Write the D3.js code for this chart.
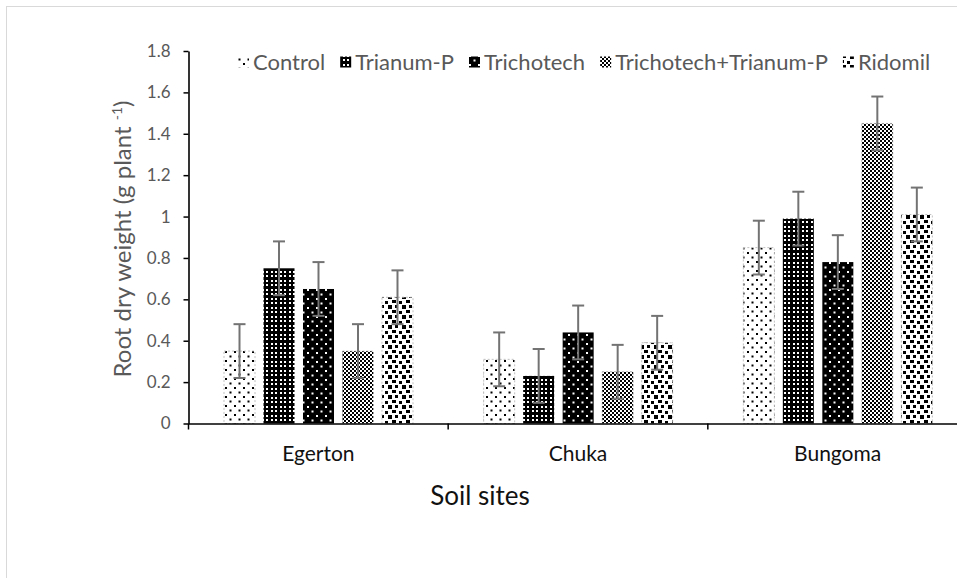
<!DOCTYPE html>
<html><head><meta charset="utf-8">
<script src="https://cdn.jsdelivr.net/npm/d3@7"></script>
<style>body{margin:0;background:#fff} svg{display:block}</style>
</head><body>
<svg id="c" width="957" height="578"></svg>
<script>
// ---- data ----
const categories = ["Egerton", "Chuka", "Bungoma"];
const seriesNames = ["Control", "Trianum-P", "Trichotech", "Trichotech+Trianum-P", "Ridomil"];
const controlVals       = [0.35, 0.31, 0.85];
const trianumVals       = [0.75, 0.23, 0.99];
const trichotechVals    = [0.65, 0.44, 0.78];
const trichoTrianumVals = [0.35, 0.25, 1.45];
const ridomilVals       = [0.61, 0.39, 1.01];
const controlErr        = [0.13, 0.13, 0.13];
const trianumErr        = [0.13, 0.13, 0.13];
const trichotechErr     = [0.13, 0.13, 0.13];
const trichoTrianumErr  = [0.13, 0.13, 0.13];
const ridomilErr        = [0.13, 0.13, 0.13];
const yTickValues = [0, 0.2, 0.4, 0.6, 0.8, 1, 1.2, 1.4, 1.6, 1.8];
const yTickLabels = ["0", "0.2", "0.4", "0.6", "0.8", "1", "1.2", "1.4", "1.6", "1.8"];
const yTitle = "Root dry weight (g plant ";
const ySup = "-1";
const xTitle = "Soil sites";

const seriesVals = [controlVals, trianumVals, trichotechVals, trichoTrianumVals, ridomilVals];
const seriesErr = [controlErr, trianumErr, trichotechErr, trichoTrianumErr, ridomilErr];
const patternIds = ["pControl", "pTrianum", "pTricho", "pTT", "pRidomil"];
const whiteBg = [true, false, false, true, true];

const FONT = "Lato, 'Open Sans', sans-serif";
const svg = d3.select("#c");

// ---- patterns ----
const defs = svg.append("defs");
function pat(id, w, h, bg, fg, rects) {
  const p = defs.append("pattern").attr("id", id).attr("patternUnits", "userSpaceOnUse")
    .attr("width", w).attr("height", h);
  p.append("rect").attr("width", w).attr("height", h).attr("fill", bg);
  rects.forEach(r => p.append("rect").attr("x", r[0]).attr("y", r[1]).attr("width", r[2]).attr("height", r[3]).attr("fill", fg));
}
pat("pControl", 9, 9, "#fff", "#000", [[0,0,2,2],[4.5,4.5,2,2]]);
pat("pTrianum", 9, 9, "#000", "#fff", [[1,1,2,2],[5,1,2,2],[1,5,2,2],[5,5,2,2]]);
pat("pTricho", 9, 9, "#000", "#fff", [[1,1,2,2],[5.5,5.5,2,2]]);
pat("pTT", 4, 4, "#fff", "#000", [[0,0,2,2],[2,2,2,2]]);
pat("pRidomil", 14, 10, "#fff", "#000", [[0,0,4,3],[7,1,3,3],[3,5,3,3],[10,5,4,4]]);

// frame
svg.append("rect").attr("x", 6.5).attr("y", 6.5).attr("width", 980).attr("height", 600)
  .attr("fill", "none").attr("stroke", "#d9d9d9").attr("stroke-width", 1);

// ---- scales ----
const x0 = d3.scaleBand().domain(categories).range([188.5, 967.5]).padding(0);
const x1 = d3.scaleBand().domain(seriesNames).range([35.5, 224.5]).paddingInner(0.215).paddingOuter(0);
const y = d3.scaleLinear().domain([0, 1.8]).range([423.5, 51]);

// ---- bars ----
const gBars = svg.append("g");
categories.forEach((cat, ci) => {
  seriesNames.forEach((s, si) => {
    const v = seriesVals[si][ci];
    const bx = x0(cat) + x1(s);
    const r = gBars.append("rect")
      .attr("x", bx).attr("y", y(v))
      .attr("width", x1.bandwidth()).attr("height", y(0) - y(v))
      .attr("fill", `url(#${patternIds[si]})`);
    if (whiteBg[si]) r.attr("stroke", "#b0b0b0").attr("stroke-width", 0.8).attr("stroke-dasharray", "2,2");
  });
});

// ---- error bars ----
const gErr = svg.append("g").attr("stroke", "#737373").attr("stroke-width", 2);
categories.forEach((cat, ci) => {
  seriesNames.forEach((s, si) => {
    const v = seriesVals[si][ci], e = seriesErr[si][ci];
    const cx = x0(cat) + x1(s) + x1.bandwidth() / 2;
    gErr.append("line").attr("x1", cx).attr("x2", cx).attr("y1", y(v + e)).attr("y2", y(v - e));
    [v + e, v - e].forEach(t => gErr.append("line").attr("x1", cx - 6).attr("x2", cx + 6).attr("y1", y(t)).attr("y2", y(t)));
  });
});

// ---- y axis ----
const yAxis = svg.append("g").attr("transform", "translate(188.5,0)")
  .call(d3.axisLeft(y).tickValues(yTickValues).tickFormat((d, i) => yTickLabels[i]).tickSize(5).tickSizeOuter(0).tickPadding(13));
yAxis.select(".domain").attr("stroke", "#000").attr("stroke-width", 1.6);
yAxis.selectAll(".tick line").attr("stroke", "#000").attr("stroke-width", 1.5);
yAxis.selectAll("text").attr("font-family", FONT).attr("font-size", 17).attr("fill", "#595959");

// ---- x axis ----
const xAxis = svg.append("g").attr("transform", "translate(0,423.5)")
  .call(d3.axisBottom(x0).tickSize(0).tickPadding(23));
xAxis.select(".domain").attr("stroke", "#000").attr("stroke-width", 1.6);
xAxis.selectAll("text").attr("font-family", FONT).attr("font-size", 21).attr("fill", "#111");
const bounds = categories.map(c => x0(c)).concat([x0.range()[1]]);
xAxis.selectAll(".sep").data(bounds).join("line").attr("class", "sep")
  .attr("x1", d => d).attr("x2", d => d).attr("y1", 0).attr("y2", 6)
  .attr("stroke", "#000").attr("stroke-width", 1.5);

// ---- axis titles ----
const yt = svg.append("text").attr("transform", "translate(131,239) rotate(-90)")
  .attr("text-anchor", "middle").attr("font-family", FONT).attr("font-size", 24).attr("fill", "#595959");
yt.append("tspan").text(yTitle);
yt.append("tspan").attr("font-size", 14).attr("dy", -9).text(ySup);
yt.append("tspan").attr("dy", 9).text(")");

svg.append("text").attr("x", 480).attr("y", 505).attr("text-anchor", "middle")
  .attr("font-family", FONT).attr("font-size", 26).attr("fill", "#111").text(xTitle);

// ---- legend ----
const lg = svg.append("g");
let lx = 238;
const ly = 62;
seriesNames.forEach((s, si) => {
  lg.append("rect").attr("x", lx).attr("y", ly - 5.5).attr("width", 11).attr("height", 11)
    .attr("fill", `url(#${patternIds[si]})`);
  const t = lg.append("text").attr("x", lx + 15).attr("y", ly).attr("dy", "0.36em")
    .attr("font-family", FONT).attr("font-size", 22).attr("fill", "#595959").text(s);
  lx += 15 + t.node().getComputedTextLength() + 15;
});
</script>
</body></html>
